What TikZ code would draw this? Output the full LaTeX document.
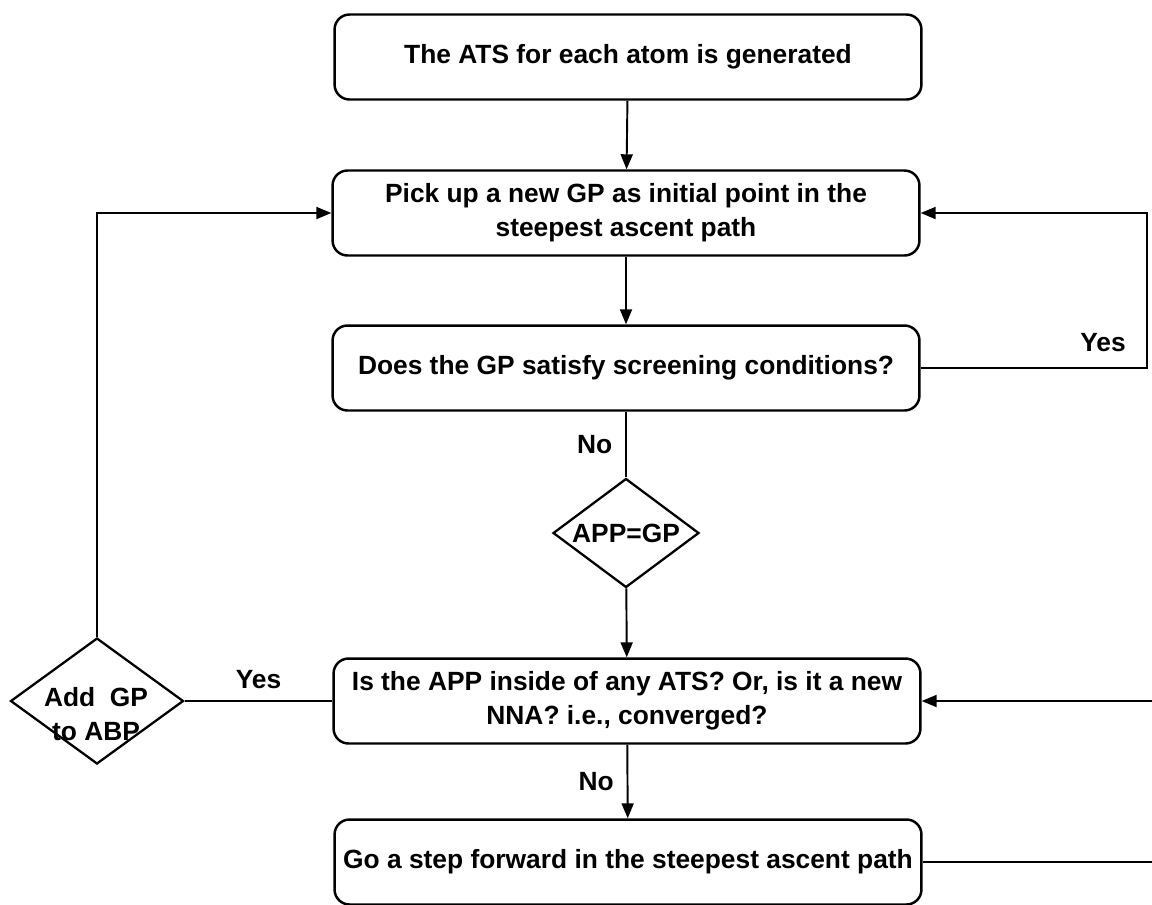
\documentclass[tikz,border=0pt]{standalone}
\usepackage{fontspec}
\setmainfont{Liberation Sans}
\usetikzlibrary{arrows.meta,shapes.geometric}
\begin{document}
\begin{tikzpicture}[x=0.02cm,y=-0.02cm,
		every node/.style={font=\fontsize{15}{19.5}\selectfont\bfseries},
		procbox/.style={draw, line width=1.4pt, rounded corners=0.3cm, align=center,
			minimum width=11.74cm, minimum height=1.7cm, inner sep=0pt},
		decision/.style={draw, diamond, line width=1.3pt, inner sep=0pt},
		flow/.style={line width=1.1pt},
		arr/.style={flow, -{Triangle[length=0.3cm,width=0.24cm]}}]
				\useasboundingbox (0,0) rectangle (1152,904);
				\node[procbox] (ats) at (628,57) {The ATS for each atom is generated};
				\node[procbox] (pick) at (626,213) {Pick up a new GP as initial point in the\\steepest ascent path};
				\node[procbox] (screen) at (626,368) {Does the GP satisfy screening conditions?};
				\node[decision, minimum width=2.92cm, minimum height=2.18cm] (same) at (626,533) {};
				\node at (same) {APP=GP};
				\node[procbox] (inside) at (627,701) {Is the APP inside of any ATS? Or, is it a new\\NNA? i.e., converged?};
				\node[procbox] (forward) at (628,862) {Go a step forward in the steepest ascent path};
				\node[decision, minimum width=3.46cm, minimum height=2.52cm] (abp) at (97,701) {};
				\node[align=center] at (96,714) {Add\ \ GP\\to ABP};
				\coordinate (ltop) at (97,213);
				\coordinate (rtop) at (1147,213);
				\coordinate (rbot) at (1170,701);
				\draw[arr] (ats) to (pick);
				\draw[arr] (pick) to (screen);
				\draw[flow] (screen) to node[left=4pt] {No} (same);
				\draw[arr] (same) to (inside);
				\draw[arr] (inside) to node[left=4pt] {No} (forward);
				\draw[flow] (inside.west) to node[above=3pt] {Yes} (abp.east);
				\draw[arr] (abp.north) -- (ltop) -- (pick.west);
				\draw[arr] (screen.east) -- (screen.east -| rtop) -- (rtop) -- (pick.east);
				\node at (1103,343) {Yes};
				\draw[arr] (forward.east) -| (rbot) -- (inside.east);
			\end{tikzpicture}
\end{document}
